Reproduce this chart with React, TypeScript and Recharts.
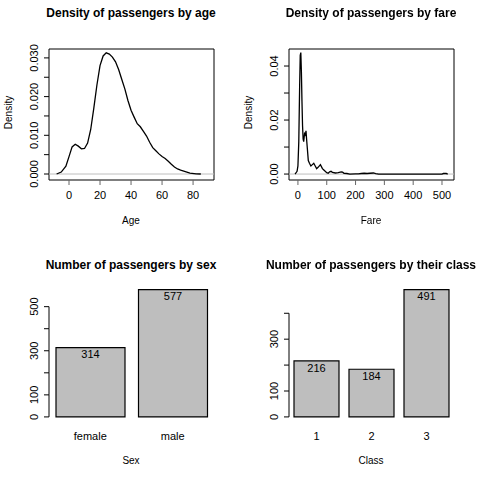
import React from "react";
import { LineChart, Line, BarChart, Bar, XAxis, YAxis, ReferenceLine, ReferenceArea, LabelList } from "recharts";

const ageX = [-8,-5,-2,0,2,4,6,8,10,12,14,16,18,20,22,24,26,28,30,32,34,36,38,40,42,44,46,48,50,52,54,56,58,60,62,64,66,68,70,72,75,78,82,85];
const ageY = [0,0.0005,0.002,0.0045,0.007,0.0077,0.0072,0.0065,0.0066,0.008,0.0115,0.017,0.023,0.028,0.0305,0.0313,0.031,0.0302,0.029,0.027,0.0245,0.022,0.019,0.0165,0.0147,0.013,0.0122,0.011,0.0098,0.0082,0.0068,0.006,0.0052,0.0045,0.004,0.0033,0.0025,0.0018,0.0013,0.001,0.0006,0.0002,0.00005,0];
const fareX = [-10,-3,0,3,6,8,10,12,14,16,18,20,23,26,28,30,33,36,40,45,50,55,60,65,70,78,85,90,100,105,110,115,120,130,140,150,155,160,170,180,200,210,220,230,240,250,262,270,280,300,500,505,515,520];
const fareY = [0,0.001,0.003,0.012,0.033,0.044,0.045,0.038,0.027,0.018,0.013,0.012,0.015,0.0145,0.016,0.013,0.009,0.005,0.004,0.003,0.0035,0.004,0.003,0.002,0.0025,0.0035,0.002,0.0015,0.0005,0.0003,0.0008,0.001,0.0006,0.0004,0.0005,0.0008,0.0007,0.0003,0.0002,0,0.0001,0.0001,0.0002,0.0003,0.0002,0.0003,0.0004,0.0002,0,0,0,0.0002,0.0002,0];
const sexCats = ["female", "male"];
const sexCounts = [314, 577];
const classCats = ["1", "2", "3"];
const classCounts = [216, 184, 491];

const ageData = ageX.map((x, i) => ({ x, y: ageY[i] }));
const fareData = fareX.map((x, i) => ({ x, y: fareY[i] }));
const sexData = sexCats.map((c, i) => ({ c, v: sexCounts[i] }));
const classData = classCats.map((c, i) => ({ c, v: classCounts[i] }));

const FONT = "'Liberation Sans', Arial, sans-serif";

const makeYTick = (labeled: number[], fmt: (v: number) => string, stepPx = 0, lastVal = Infinity) => (p: any) => {
  const { x, y, payload } = p;
  const v = payload.value;
  const show = labeled.some((l) => Math.abs(l - v) < 1e-9);
  return (
    <g>
      <line x1={x} x2={x - 5} y1={y} y2={y} stroke="#000" />
      {stepPx > 0 && v < lastVal && <line x1={x} x2={x} y1={y} y2={y - stepPx} stroke="#000" />}
      {show && (
        <text transform={`translate(${x - 15},${y}) rotate(-90)`} textAnchor="middle" dy="0.35em" fontSize={11} fill="#000" fontFamily={FONT}>
          {fmt(v)}
        </text>
      )}
    </g>
  );
};

const Title = ({ x, y, children }: any) => (
  <div style={{ position: "absolute", left: x - 120, top: y - 8, width: 240, textAlign: "center", fontWeight: "bold", fontSize: 12, fontFamily: FONT }}>{children}</div>
);
const Lab = ({ x, y, children }: any) => (
  <div style={{ position: "absolute", left: x - 50, top: y - 7, width: 100, textAlign: "center", fontSize: 10, fontFamily: FONT }}>{children}</div>
);
const VLab = ({ x, y, children }: any) => (
  <div style={{ position: "absolute", left: x - 50, top: y - 7, width: 100, textAlign: "center", fontSize: 10, fontFamily: FONT, transform: "rotate(-90deg)" }}>{children}</div>
);

const tickStyle = { fontSize: 11, fill: "#000", fontFamily: FONT };

function Density({ data, xd, yd, xt, yt, yl, fmt }: any) {
  return (
    <LineChart width={240} height={240} data={data} margin={{ top: 49, right: 26, bottom: 0, left: 0 }}>
      <XAxis dataKey="x" type="number" domain={xd} ticks={xt} allowDataOverflow axisLine={false} tickSize={5} tickMargin={6} tick={tickStyle} height={60} interval={0} />
      <YAxis type="number" domain={yd} ticks={yt} allowDataOverflow axisLine={false} tickLine={false} tickSize={0} tickMargin={0} width={49} interval={0} tick={makeYTick(yl, fmt)} />
      <ReferenceLine y={0} stroke="#bebebe" />
      <ReferenceArea x1={xd[0]} x2={xd[1]} y1={yd[0]} y2={yd[1]} fill="none" stroke="#000" strokeOpacity={1} ifOverflow="visible" />
      <Line dataKey="y" stroke="#000" dot={false} isAnimationActive={false} strokeWidth={1.3} type="linear" />
    </LineChart>
  );
}

function Bars({ data, yd, yt, yl, step, last, barSize }: any) {
  const plotH = 137.4;
  const stepPx = (plotH * step) / (yd[1] - yd[0]);
  return (
    <BarChart width={240} height={240} data={data} margin={{ top: 44.6, right: 26, bottom: 0, left: 0 }} barSize={barSize}>
      <XAxis dataKey="c" axisLine={false} tickLine={false} tickSize={0} tickMargin={10} tick={tickStyle} height={58} padding={{ left: 0, right: 0 }} />
      <YAxis type="number" domain={yd} ticks={yt} allowDataOverflow axisLine={false} tickLine={false} tickSize={0} tickMargin={0} width={49} interval={0} tick={makeYTick(yl, (v) => String(v), stepPx, last)} />
      <Bar dataKey="v" fill="#bebebe" stroke="#000" strokeWidth={1.2} isAnimationActive={false}>
        <LabelList dataKey="v" position="insideTop" offset={3} style={{ fontSize: 11, fill: "#000", fontFamily: FONT }} />
      </Bar>
    </BarChart>
  );
}

export default function App() {
  return (
    <div style={{ position: "fixed", left: 0, top: 0, width: 480, height: 480, background: "#fff" }}>
      <div style={{ position: "absolute", left: 0, top: 0 }}>
        <Density data={ageData} xd={[-12.9, 93.5]} yd={[-0.00155, 0.0323]} xt={[0, 20, 40, 60, 80]} yt={[0, 0.005, 0.01, 0.015, 0.02, 0.025, 0.03]} yl={[0, 0.01, 0.02, 0.03]} fmt={(v: number) => v.toFixed(3)} />
      </div>
      <div style={{ position: "absolute", left: 240, top: 0 }}>
        <Density data={fareData} xd={[-31, 541.7]} yd={[-0.0022, 0.0463]} xt={[0, 100, 200, 300, 400, 500]} yt={[0, 0.01, 0.02, 0.03, 0.04]} yl={[0, 0.02, 0.04]} fmt={(v: number) => v.toFixed(2)} />
      </div>
      <div style={{ position: "absolute", left: 0, top: 240 }}>
        <Bars data={sexData} yd={[-23.08, 600.08]} yt={[0, 100, 200, 300, 400, 500]} yl={[0, 100, 300, 500]} step={100} last={500} barSize={69} />
      </div>
      <div style={{ position: "absolute", left: 240, top: 240 }}>
        <Bars data={classData} yd={[-19.64, 510.64]} yt={[0, 100, 200, 300, 400]} yl={[0, 100, 300]} step={100} last={400} barSize={45} />
      </div>
      <Title x={131} y={14}>Density of passengers by age</Title>
      <Title x={371} y={14}>Density of passengers by fare</Title>
      <Title x={131} y={266}>Number of passengers by sex</Title>
      <Title x={371} y={266}>Number of passengers by their class</Title>
      <Lab x={131} y={222}>Age</Lab>
      <Lab x={371} y={222}>Fare</Lab>
      <Lab x={131} y={462}>Sex</Lab>
      <Lab x={371} y={462}>Class</Lab>
      <VLab x={8} y={114}>Density</VLab>
      <VLab x={248} y={114}>Density</VLab>
    </div>
  );
}
